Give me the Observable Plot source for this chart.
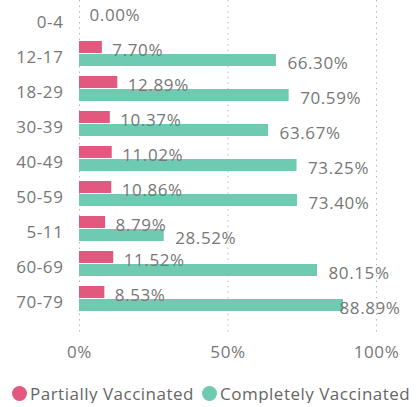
<!DOCTYPE html>
<html><head><meta charset="utf-8">
<script src="https://cdn.jsdelivr.net/npm/d3@7"></script>
<script src="https://cdn.jsdelivr.net/npm/@observablehq/plot@0.6"></script>
<style>
body{margin:0;background:#fff;font-family:"Open Sans",sans-serif;}
#chart svg{display:block;}
#legend{display:flex;align-items:center;height:20px;margin-top:13px;padding-left:12px;color:#666;font-size:17px;letter-spacing:0.5px;white-space:nowrap;}
#legend .item{display:flex;align-items:center;margin-right:8px;}
#legend .dot{width:15px;height:15px;border-radius:50%;margin-right:3px;}
</style></head><body><div id="chart"></div><div id="legend"></div><script>
const categories = ["0-4","12-17","18-29","30-39","40-49","50-59","5-11","60-69","70-79"];
const partially = [0.00, 7.70, 12.89, 10.37, 11.02, 10.86, 8.79, 11.52, 8.53];
const completely = [null, 66.30, 70.59, 63.67, 73.25, 73.40, 28.52, 80.15, 88.89];
const seriesNames = ["Partially Vaccinated","Completely Vaccinated"];
const seriesColors = ["#E3587F","#6ECAB0"];
const xTicks = [0, 50, 100];

const rows = categories.map((c,i)=>({category:c, partially: partially[i], completely: completely[i]}));
const full = rows.filter(d => d.completely != null);
const fmt = v => v.toFixed(2) + "%";

const chart = Plot.plot({
  width: 416, height: 370,
  marginLeft: 79, marginRight: 40, marginTop: 0, marginBottom: 35,
  style: {fontFamily: "'Open Sans', sans-serif", fontSize: "17px", color: "#777", background: "#fff", letterSpacing: "0.6px"},
  x: {domain: [0, 100]},
  y: {domain: categories, range: [4.6, 313], paddingInner: 0.29, paddingOuter: 0},
  marks: [
    Plot.gridX(xTicks, {stroke: "#bbb", strokeOpacity: 1, strokeDasharray: "1.5,4"}),
    Plot.barX(rows, {y: "category", x: "partially", fill: seriesColors[0], insetBottom: 13}),
    Plot.barX(full, {y: "category", x: "completely", fill: seriesColors[1], insetTop: 13}),
    Plot.text(rows, {y: "category", x: "partially", text: d => fmt(d.partially), textAnchor: "start", dx: 10, dy: -3, fill: "#777"}),
    Plot.text(full.filter(d => d.completely < 85), {y: "category", x: "completely", text: d => fmt(d.completely), textAnchor: "start", dx: 11, dy: 10, fill: "#777"}),
    Plot.text(full.filter(d => d.completely >= 85), {y: "category", x: "completely", text: d => fmt(d.completely), textAnchor: "start", dx: -4, dy: 10, fill: "#777"}),
    Plot.axisX(xTicks, {tickSize: 0, tickPadding: 10, tickFormat: d => d + "%", label: null, fill: "#777"}),
    Plot.axisY({tickSize: 0, tickPadding: 16, label: null, dy: 4, fill: "#777"})
  ]
});
document.getElementById("chart").append(chart);

const legend = document.getElementById("legend");
seriesNames.forEach((name, i) => {
  const item = document.createElement("div");
  item.className = "item";
  const dot = document.createElement("span");
  dot.className = "dot";
  dot.style.background = seriesColors[i];
  const label = document.createElement("span");
  label.textContent = name;
  item.append(dot, label);
  legend.append(item);
});
</script></body></html>
